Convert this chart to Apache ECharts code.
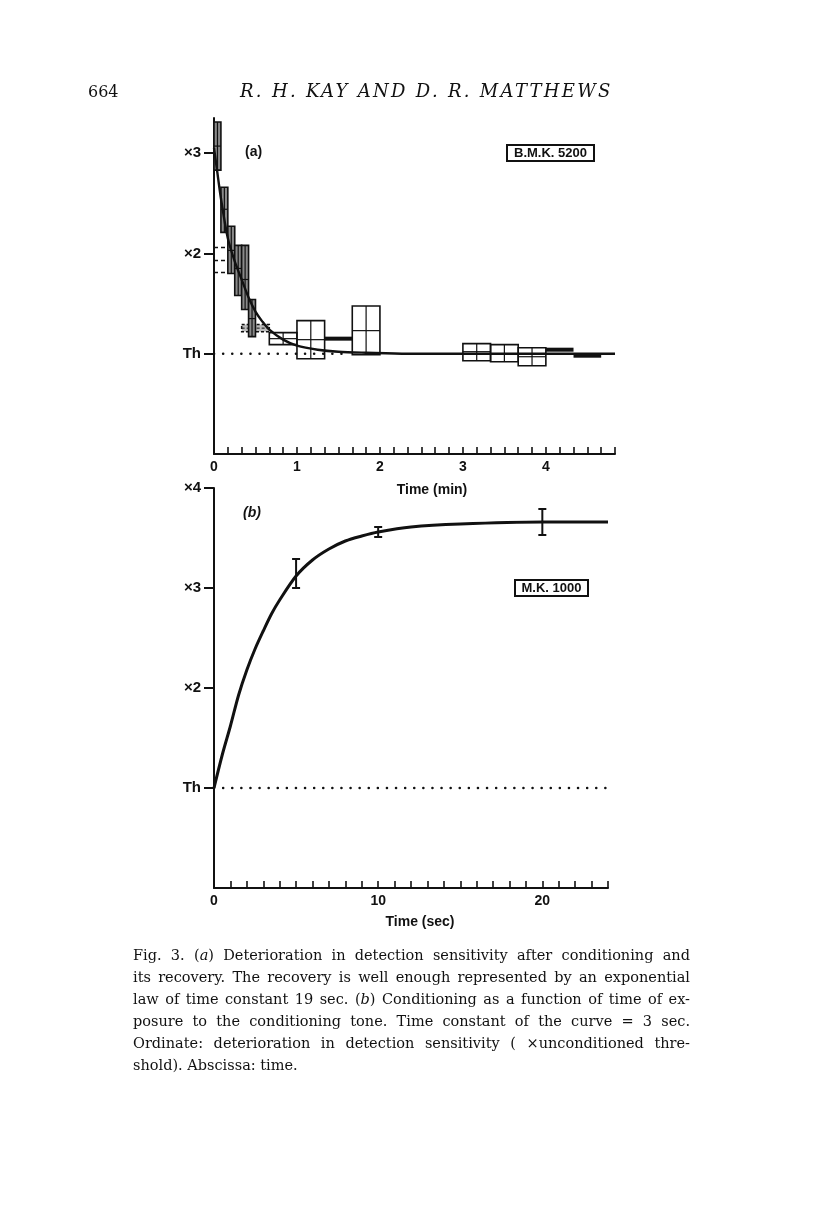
<!DOCTYPE html>
<html>
<head>
<meta charset="utf-8">
<script src="https://cdn.jsdelivr.net/npm/echarts@6/dist/echarts.min.js"></script>
<style>
  body { margin: 0; background: #fff; }
  #chart { position: absolute; left: 0; top: 0; width: 816px; height: 1221px; }
  .hdr { position: absolute; font-family: 'DejaVu Serif', serif; color: #111; white-space: nowrap; }
  .cap { position: absolute; left: 133px; top: 944px; width: 557px; font-family: 'DejaVu Serif', serif; font-size: 14.5px; color: #111; }
  .cap div { text-align: justify; text-align-last: justify; height: 22px; line-height: 22px; white-space: nowrap; }
  .cap div.last { text-align-last: left; }
</style>
</head>
<body>
<div id="chart"></div>
<div class="hdr" style="left:88px;top:82px;font-size:16px;">664</div>
<div class="hdr" style="left:240px;top:80px;font-size:18px;font-style:italic;letter-spacing:2.3px;">R. H. KAY AND D. R. MATTHEWS</div>
<div class="cap">
  <div>Fig. 3. (<i>a</i>) Deterioration in detection sensitivity after conditioning and</div>
  <div>its recovery. The recovery is well enough represented by an exponential</div>
  <div>law of time constant 19 sec. (<i>b</i>) Conditioning as a function of time of ex-</div>
  <div>posure to the conditioning tone. Time constant of the curve = 3 sec.</div>
  <div>Ordinate: deterioration in detection sensitivity ( ×unconditioned thre-</div>
  <div class="last">shold). Abscissa: time.</div>
</div>
<script>
// panel (a): recovery, time in seconds (axis labelled in minutes)
const aBoxStart = [0, 5, 10, 15, 20, 25, 40, 60, 80, 100, 180, 200, 220, 240, 260];
const aBoxEnd   = [5, 10, 15, 20, 25, 30, 60, 80, 100, 120, 200, 220, 240, 260, 280];
const aBoxLow   = [2.83, 2.21, 1.80, 1.58, 1.44, 1.17, 1.09, 0.95, 1.13, 0.99, 0.93, 0.92, 0.88, 1.02, 0.96];
const aBoxHigh  = [3.31, 2.66, 2.27, 2.08, 2.08, 1.54, 1.21, 1.33, 1.17, 1.475, 1.10, 1.09, 1.06, 1.06, 1.00];
const aBoxMean  = [3.07, 2.44, 2.03, 1.85, 1.74, 1.35, 1.15, 1.14, 1.15, 1.23, 1.02, 1.00, 0.97, 1.04, 0.98];
// thin dashed box at 20-40 sec
const aDashBox = [20, 40, 1.22, 1.29, 1.255];
// dashed reference levels drawn from the ordinate
const aDashLevels = [2.06, 1.93, 1.81];
const aDashEnd = 17;
// fitted recovery curve (time constant 19 sec)
const aCurveT = [0, 2, 5, 10, 15, 20, 25, 30, 35, 40, 50, 60, 75, 90, 110, 140, 180, 230, 290];
const aCurveV = [3.05, 2.85, 2.55, 2.15, 1.92, 1.74, 1.56, 1.42, 1.32, 1.24, 1.14, 1.08, 1.04, 1.02, 1.01, 1.0, 1.0, 1.0, 1.0];
const aThresholdEnd = 95;
const aYTicks = [1, 2, 3];
const aXLabels = [0, 60, 120, 180, 240];

// panel (b): conditioning vs exposure time (sec)
const bCurveT = [0, 0.5, 1, 1.5, 2, 2.5, 3, 3.5, 4, 5, 6, 7, 8, 9, 10, 12, 15, 20, 24];
const bCurveV = [1.0, 1.33, 1.62, 1.93, 2.18, 2.39, 2.57, 2.74, 2.88, 3.12, 3.28, 3.39, 3.47, 3.52, 3.56, 3.61, 3.64, 3.66, 3.66];
const bErrT    = [5, 10, 20];
const bErrLow  = [3.0, 3.51, 3.53];
const bErrHigh = [3.29, 3.61, 3.79];
const bYTicks = [1, 2, 3, 4];
const bXLabels = [0, 10, 20];

const ink = '#111';
const xLabelFont = { color: ink, fontFamily: 'Liberation Sans', fontWeight: 'bold', fontSize: 14 };
const yLabelFont = { color: ink, fontFamily: 'Liberation Sans', fontWeight: 'bold', fontSize: 15 };
const yFmt = v => (v === 1 ? 'Th' : '×' + v);

function renderBox(params, api) {
  const t0 = api.value(0), t1 = api.value(1), lo = api.value(2), hi = api.value(3), m = api.value(4);
  const a = api.coord([t0, hi]);
  const b = api.coord([t1, lo]);
  const mid = api.coord([(t0 + t1) / 2, m]);
  const w = b[0] - a[0], h = b[1] - a[1];
  if (h < 6) {
    return { type: 'rect', shape: { x: a[0], y: mid[1] - 2, width: w, height: 4 }, style: { fill: ink } };
  }
  const narrow = t1 - t0 <= 5;
  return {
    type: 'group',
    children: [
      { type: 'rect', shape: { x: a[0], y: a[1], width: w, height: h },
        style: { fill: narrow ? '#8a8a8a' : 'rgba(255,255,255,0)', stroke: ink, lineWidth: 1.6 } },
      { type: 'line', shape: { x1: mid[0], y1: a[1], x2: mid[0], y2: b[1] }, style: { stroke: ink, lineWidth: 1.2 } },
      { type: 'line', shape: { x1: a[0], y1: mid[1], x2: b[0], y2: mid[1] }, style: { stroke: ink, lineWidth: 1.2 } }
    ]
  };
}

function renderDashBox(params, api) {
  const a = api.coord([api.value(0), api.value(3)]);
  const b = api.coord([api.value(1), api.value(2)]);
  const mid = api.coord([(api.value(0) + api.value(1)) / 2, api.value(4)]);
  return {
    type: 'group',
    children: [
      { type: 'rect', shape: { x: a[0], y: a[1], width: b[0] - a[0], height: b[1] - a[1] },
        style: { fill: '#bbb', stroke: ink, lineWidth: 1.5, lineDash: [3, 2] } },
      { type: 'line', shape: { x1: a[0], y1: mid[1], x2: b[0], y2: mid[1] }, style: { stroke: ink, lineWidth: 1, lineDash: [3, 2] } }
    ]
  };
}

function renderErr(params, api) {
  const lo = api.coord([api.value(0), api.value(1)]);
  const hi = api.coord([api.value(0), api.value(2)]);
  const c = 4;
  return {
    type: 'group',
    children: [
      { type: 'line', shape: { x1: lo[0], y1: lo[1], x2: hi[0], y2: hi[1] }, style: { stroke: ink, lineWidth: 2 } },
      { type: 'line', shape: { x1: lo[0] - c, y1: lo[1], x2: lo[0] + c, y2: lo[1] }, style: { stroke: ink, lineWidth: 2 } },
      { type: 'line', shape: { x1: hi[0] - c, y1: hi[1], x2: hi[0] + c, y2: hi[1] }, style: { stroke: ink, lineWidth: 2 } }
    ]
  };
}

const chart = echarts.init(document.getElementById('chart'), null, { renderer: 'canvas' });

const axisLineStyle = { show: true, lineStyle: { color: ink, width: 2 } };

chart.setOption({
  backgroundColor: '#fff',
  animation: false,
  grid: [
    { left: 214, top: 118, width: 401, height: 336, outerBoundsMode: 'none' },
    { left: 214, top: 488, width: 394, height: 400, outerBoundsMode: 'none' }
  ],
  xAxis: [
    {
      gridIndex: 0, type: 'value', min: 0, max: 290, interval: 10,
      axisLine: axisLineStyle,
      axisTick: { show: true, inside: true, length: 7, lineStyle: { color: ink, width: 1.6 } },
      axisLabel: Object.assign({ customValues: aXLabels, formatter: v => String(v / 60), margin: 6 }, xLabelFont),
      splitLine: { show: false }
    },
    {
      gridIndex: 1, type: 'value', min: 0, max: 24, interval: 1,
      axisLine: axisLineStyle,
      axisTick: { show: true, inside: true, length: 7, lineStyle: { color: ink, width: 1.6 } },
      axisLabel: Object.assign({ customValues: bXLabels, margin: 6 }, xLabelFont),
      splitLine: { show: false }
    }
  ],
  yAxis: [
    {
      gridIndex: 0, type: 'value', min: 0, max: 3.35,
      axisLine: axisLineStyle,
      axisTick: { show: true, customValues: aYTicks, length: 10, lineStyle: { color: ink, width: 2 } },
      axisLabel: Object.assign({ customValues: aYTicks, formatter: yFmt, margin: 13 }, yLabelFont),
      splitLine: { show: false }
    },
    {
      gridIndex: 1, type: 'value', min: 0, max: 4,
      axisLine: axisLineStyle,
      axisTick: { show: true, customValues: bYTicks, length: 10, lineStyle: { color: ink, width: 2 } },
      axisLabel: Object.assign({ customValues: bYTicks, formatter: yFmt, margin: 13 }, yLabelFont),
      splitLine: { show: false }
    }
  ],
  graphic: [
    { type: 'text', left: 245, top: 145, style: { text: '(a)', font: 'bold 14px "Liberation Sans"', fill: ink } },
    { type: 'rect', shape: { x: 507, y: 145, width: 87, height: 16 }, style: { fill: '#fff', stroke: ink, lineWidth: 2 } },
    { type: 'text', x: 550.5, y: 153, style: { text: 'B.M.K. 5200', font: 'bold 13px "Liberation Sans"', fill: ink, align: 'center', verticalAlign: 'middle' } },
    { type: 'text', x: 432, y: 490, style: { text: 'Time (min)', font: 'bold 14px "Liberation Sans"', fill: ink, align: 'center', verticalAlign: 'middle' } },
    { type: 'text', left: 243, top: 506, style: { text: '(b)', font: 'italic bold 14px "Liberation Sans"', fill: ink } },
    { type: 'rect', shape: { x: 515, y: 580, width: 73, height: 16 }, style: { fill: '#fff', stroke: ink, lineWidth: 2 } },
    { type: 'text', x: 551.5, y: 588, style: { text: 'M.K. 1000', font: 'bold 13px "Liberation Sans"', fill: ink, align: 'center', verticalAlign: 'middle' } },
    { type: 'text', x: 420, y: 922, style: { text: 'Time (sec)', font: 'bold 14px "Liberation Sans"', fill: ink, align: 'center', verticalAlign: 'middle' } }
  ],
  series: [
    {
      type: 'line', xAxisIndex: 0, yAxisIndex: 0, symbol: 'none', z: 1,
      data: [[0, 1], [aThresholdEnd, 1]],
      lineStyle: { color: ink, width: 2.5, type: [0.1, 9], cap: 'round' }
    },
    ...aDashLevels.map(v => ({
      type: 'line', xAxisIndex: 0, yAxisIndex: 0, symbol: 'none', z: 1,
      data: [[0, v], [aDashEnd, v]],
      lineStyle: { color: ink, width: 1.5, type: [4, 3] }
    })),
    {
      type: 'custom', xAxisIndex: 0, yAxisIndex: 0, z: 2,
      renderItem: renderDashBox,
      data: [aDashBox]
    },
    {
      type: 'custom', xAxisIndex: 0, yAxisIndex: 0, z: 3,
      renderItem: renderBox,
      data: aBoxStart.map((t, i) => [t, aBoxEnd[i], aBoxLow[i], aBoxHigh[i], aBoxMean[i]])
    },
    {
      type: 'line', xAxisIndex: 0, yAxisIndex: 0, symbol: 'none', smooth: 0.3, z: 4,
      data: aCurveT.map((t, i) => [t, aCurveV[i]]),
      lineStyle: { color: ink, width: 2.4 }
    },
    {
      type: 'line', xAxisIndex: 1, yAxisIndex: 1, symbol: 'none', z: 1,
      data: [[0, 1], [24, 1]],
      lineStyle: { color: ink, width: 2.5, type: [0.1, 9], cap: 'round' }
    },
    {
      type: 'line', xAxisIndex: 1, yAxisIndex: 1, symbol: 'none', smooth: 0.3, z: 3,
      data: bCurveT.map((t, i) => [t, bCurveV[i]]),
      lineStyle: { color: ink, width: 3 }
    },
    {
      type: 'custom', xAxisIndex: 1, yAxisIndex: 1, z: 4,
      renderItem: renderErr,
      data: bErrT.map((t, i) => [t, bErrLow[i], bErrHigh[i]])
    }
  ]
});
</script>
</body>
</html>
